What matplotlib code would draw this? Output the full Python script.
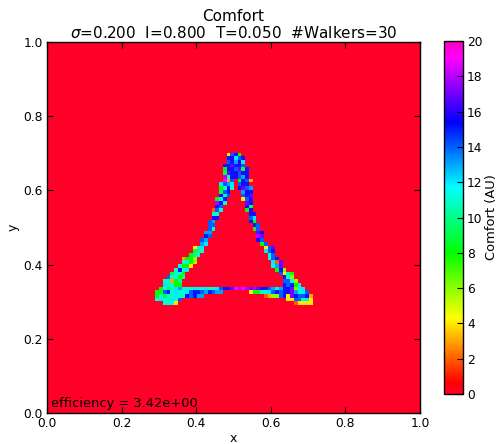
import numpy as np
import matplotlib
matplotlib.use('Agg')
import matplotlib.pyplot as plt

# comfort map: 100 x 100 cells, everything outside the walker trail is 0
n_cells = 100
vmin, vmax = 0, 20

# trail cells: (row, first column, values)
# one character per cell, value = int(char, 36)  ->  '4' = 4, 'a' = 10, 'k' = 20
trail_rows = [
    (69, 48, "4ef8"),
    (68, 48, "fgcef"),
    (67, 48, "efdgc"),
    (66, 47, "gfhfge"),
    (65, 47, "8gfeh9f"),
    (64, 47, "9hfgegf"),
    (63, 47, "ibfgedg"),
    (62, 47, "j3e"), (62, 51, "8fe3"),
    (61, 46, "cedc"), (61, 51, "egf"),
    (60, 46, "8bfb"), (60, 51, "fhed"),
    (59, 46, "9ef"), (59, 52, "dgf"),
    (58, 46, "gae"), (58, 52, "efh"),
    (57, 45, "8cf"), (57, 52, "4eg"),
    (56, 45, "ifb"), (56, 53, "hf"),
    (55, 45, "fe"), (55, 53, "g9"),
    (54, 44, "2eb"), (54, 53, "8g"),
    (53, 44, "bb"), (53, 54, "fg"),
    (52, 44, "gf"), (52, 54, "ec"),
    (51, 43, "ed"), (51, 54, "f8"),
    (50, 43, "ee"), (50, 55, "fe"),
    (49, 43, "eb"), (49, 55, "8e"),
    (48, 42, "dd"), (48, 56, "hg"),
    (47, 42, "fe"), (47, 56, "ih"),
    (46, 41, "ed"), (46, 56, "ge"),
    (45, 41, "dc"), (45, 57, "8e"),
    (44, 39, "4bc"), (44, 58, "4eh"),
    (43, 39, "9ab"), (43, 58, "cef"),
    (42, 38, "8ab"), (42, 59, "be"),
    (41, 36, "3886"), (41, 59, "bef"),
    (40, 36, "bb86"), (40, 60, "c2h"),
    (39, 35, "b884"), (39, 60, "bdh"),
    (38, 34, "bfbc"), (38, 61, "8f6"),
    (37, 33, "9bb8"), (37, 62, "e4a8"),
    (36, 32, "ebb8a"), (36, 63, "fb6"),
    (35, 31, "bb38a"), (35, 63, "eeb6"),
    (34, 31, "cbb88"), (34, 63, "fef8c"),
    (33, 30, "8b9bcdbbbcbbcbbcefghjijihihgfedcdffh6bc"),
    (32, 29, "88efbcbbceffedfedd"), (32, 54, "488bbcefefghdbce"),
    (31, 29, "8b9bbcbbfefdd"), (31, 58, "2366ef4hfeef3"),
    (30, 29, "bcbbcbe"), (30, 64, "44eebc4"),
    (29, 31, "bbb4"), (29, 66, "24444"),
]

title = "Comfort\n$\\sigma$=0.200  I=0.800  T=0.050  #Walkers=30"
efficiency = 3.42
cbar_ticks = [0, 2, 4, 6, 8, 10, 12, 14, 16, 18, 20]
axis_ticks = [0.0, 0.2, 0.4, 0.6, 0.8, 1.0]

comfort = np.zeros((n_cells, n_cells))
for row, col, vals in trail_rows:
    for k, ch in enumerate(vals):
        if ch != '.':
            comfort[row, col + k] = int(ch, 36)

fig = plt.figure(figsize=(4.99, 4.44), dpi=100)
ax = fig.add_axes([0.0942, 0.0698, 0.7475, 0.8356])
cax = fig.add_axes([0.8898, 0.1126, 0.0375, 0.795])

im = ax.imshow(comfort, origin='lower', extent=[0, 1, 0, 1], cmap='gist_rainbow',
               vmin=vmin, vmax=vmax, interpolation='nearest', aspect='auto')

ax.set_xlim(0, 1)
ax.set_ylim(0, 1)
ax.set_xticks(axis_ticks)
ax.set_yticks(axis_ticks)
ax.tick_params(direction='in', top=True, right=True, length=4, labelsize=8.8, pad=3)
ax.set_xlabel('x', fontsize=9, labelpad=1)
ax.set_ylabel('y', fontsize=9, labelpad=3)
ax.set_title(title, fontsize=11, pad=3, linespacing=1.05)
ax.text(0.01, 0.008, 'efficiency = %.2e' % efficiency, transform=ax.transAxes,
        fontsize=9.4, ha='left', va='bottom')
for sp in ax.spines.values():
    sp.set_linewidth(1.0)

cb = fig.colorbar(im, cax=cax, ticks=cbar_ticks)
cb.ax.tick_params(direction='in', length=4, labelsize=8.8, pad=3)
cb.set_label('Comfort (AU)', fontsize=9.4, labelpad=2)
cb.outline.set_linewidth(1.0)

fig.savefig('out.png', dpi=100)
